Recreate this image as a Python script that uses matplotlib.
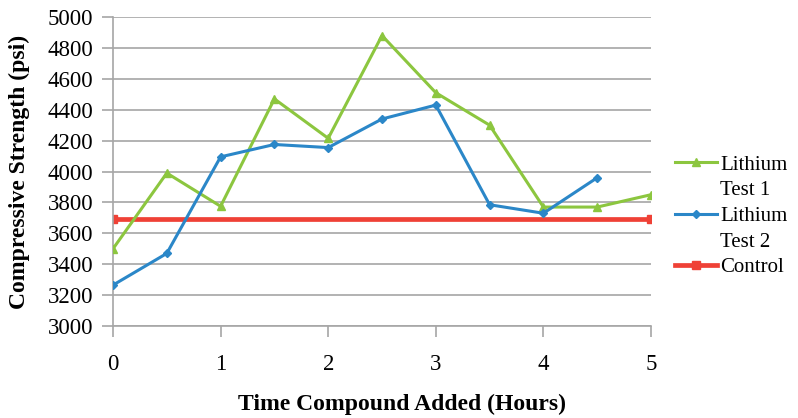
import matplotlib
matplotlib.use("Agg")
import matplotlib.pyplot as plt
from matplotlib.lines import Line2D

# compressive strength vs. time the compound was added
hours = [0, 0.5, 1, 1.5, 2, 2.5, 3, 3.5, 4, 4.5, 5]
test1 = [3500, 3990, 3775, 4470, 4215, 4880, 4510, 4300, 3770, 3770, 3850]
hours2 = [0, 0.5, 1, 1.5, 2, 2.5, 3, 3.5, 4, 4.5]
test2 = [3265, 3470, 4095, 4175, 4155, 4340, 4430, 3785, 3730, 3960]
control_hours = [0, 5]
control = [3690, 3690]

green = "#8cc63f"
blue = "#2b87c8"
red = "#ef4136"
grid_c = "#a6a6a6"

plt.rcParams["font.family"] = ["Liberation Serif", "DejaVu Serif"]

fig = plt.figure(figsize=(7.98, 4.18), dpi=100)
ax = fig.add_axes([0.1416, 0.22, 0.6742, 0.7393])

ax.plot(hours, test1, color=green, lw=2.2, marker="^", ms=6, zorder=3)
ax.plot(hours2, test2, color=blue, lw=2.2, marker="D", ms=4.5, zorder=4)
ax.plot(control_hours, control, color=red, lw=3.4, marker="s", ms=6,
        zorder=2, solid_capstyle="butt")

ax.set_xlim(0, 5)
ax.set_ylim(3000, 5000)
ax.set_yticks(range(3000, 5001, 200))
ax.set_xticks(range(0, 6))
ax.grid(axis="y", color=grid_c, lw=1.2)
ax.set_axisbelow(True)
for s in ["top", "right"]:
    ax.spines[s].set_visible(False)
for s in ["left", "bottom"]:
    ax.spines[s].set_color(grid_c)
    ax.spines[s].set_linewidth(1.2)
ax.tick_params(axis="y", length=8, width=1.2, color=grid_c, labelsize=16.5,
               pad=6)
ax.tick_params(axis="x", length=8, width=1.2, color=grid_c, labelsize=16.5,
               pad=12)

ax.set_xlabel("Time Compound Added (Hours)", fontsize=17, fontweight="bold")
ax.xaxis.set_label_coords(0.537, -0.22)
ax.set_ylabel("Compressive Strength (psi)", fontsize=17, fontweight="bold")
ax.yaxis.set_label_coords(-0.154, 0.5)

# legend: second line of each label gets a blank handle
blank = Line2D([], [], color="none")
handles = [
    Line2D([], [], color=green, lw=2.2, marker="^", ms=6),
    blank,
    Line2D([], [], color=blue, lw=2.2, marker="D", ms=4.5),
    blank,
    Line2D([], [], color=red, lw=3.4, marker="s", ms=6),
]
labels = ["Lithium", "Test 1", "Lithium", "Test 2", "Control"]
fig.legend(handles, labels, loc="upper left", bbox_to_anchor=(0.846, 0.629),
           frameon=False, fontsize=15, handlelength=2.0, handletextpad=0.15,
           labelspacing=0.29, borderaxespad=0, borderpad=0)

fig.savefig("out.png", dpi=100)
